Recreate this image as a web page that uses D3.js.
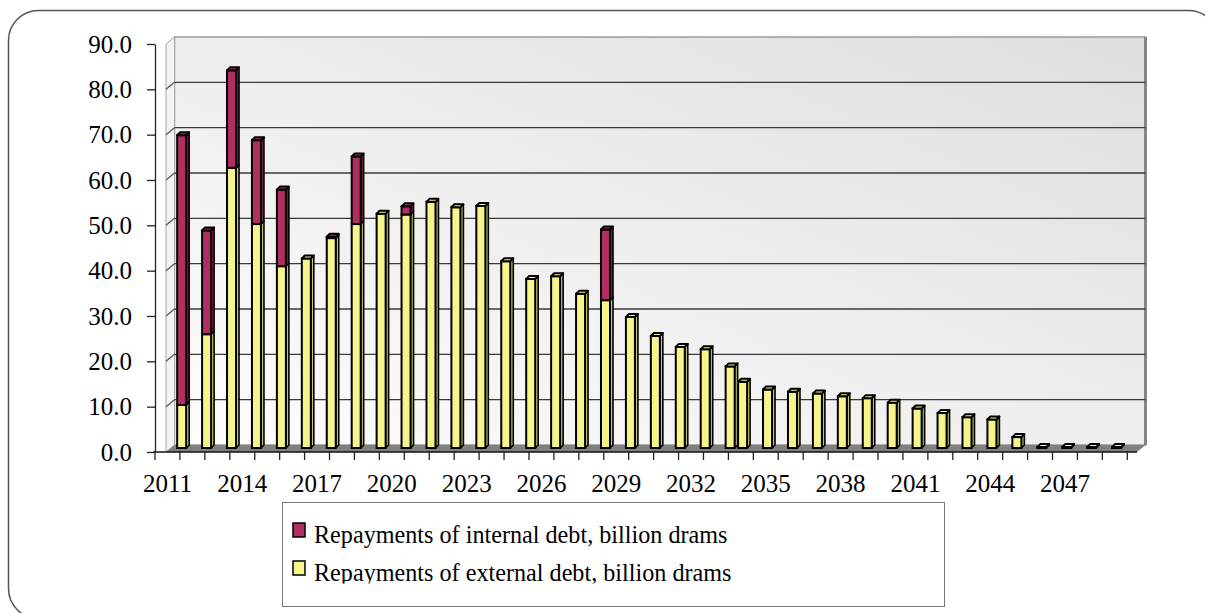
<!DOCTYPE html>
<html><head><meta charset="utf-8">
<script src="https://cdn.jsdelivr.net/npm/d3@7"></script>
<style>
body{margin:0;background:#fff}
svg{display:block}
text{font-family:"Liberation Serif","Times New Roman",serif;fill:#000}
</style>
</head><body>
<svg id="chart" width="1205" height="613"></svg>
<script>
// ---- data ----
const years = ["2011","2012","2013","2014","2015","2016","2017","2018","2019","2020",
  "2021","2022","2023","2024","2025","2026","2027","2028","2029","2030",
  "2031","2032","2033","2034","2035","2036","2037","2038","2039","2040",
  "2041","2042","2043","2044","2045","2046","2047","2048","2049"];
const externalDebt = [9.5,25.1,61.8,49.4,40.1,41.8,46.3,49.4,51.7,51.5,
  54.3,53.1,53.4,41.2,37.3,37.9,34.0,32.6,28.9,24.7,
  22.3,21.8,18.0,14.6,12.9,12.4,12.0,11.4,11.0,10.0,
  8.7,7.7,6.8,6.3,2.4,0.2,0.2,0.2,0.2];
const internalDebt = [59.5,22.9,21.5,18.5,16.9,0,0.3,14.9,0,1.8,
  0,0,0,0,0,0,0,15.6,0,0,
  0,0,0,0,0,0,0,0,0,0,
  0,0,0,0,0,0,0,0,0];
const yTickValues = [0,10,20,30,40,50,60,70,80,90];
const xTickLabels = ["2011","2014","2017","2020","2023","2026","2029","2032","2035","2038","2041","2044","2047"];
const seriesNames = ["Repayments of internal debt, billion drams","Repayments of external debt, billion drams"];
const seriesColors = {internal:"#B02E62", external:"#F5F58C"};
const sideColors = {internal:"#7A1C43", external:"#C4C46A"};

// ---- layout ----
const svg = d3.select("#chart");
const axisLeftX = 155, xEnd = 1127.3, yTop = 44, yBottom = 452;
const depthX = 8.5, depthY = -7;
const wallFrontX = 166, floorFrontRight = 1137;
const barDepth = -4;           // bars sit mid-depth on the floor
const barOffset = 9.7, barW = 9, barSide = 3;
const shiftedBars = 23;        // left part of the reference is offset half a slot

const x = d3.scaleBand().domain(years).range([axisLeftX, xEnd]).padding(0);
const y = d3.scaleLinear().domain([0, 90]).range([yBottom, yTop]);
const bw = x.bandwidth();

const defs = svg.append("defs");
const g1 = defs.append("linearGradient").attr("id","wallGrad")
  .attr("x1","0%").attr("y1","100%").attr("x2","100%").attr("y2","0%");
g1.append("stop").attr("offset","0%").attr("stop-color","#fdfdfd");
g1.append("stop").attr("offset","100%").attr("stop-color","#dedede");
defs.append("clipPath").attr("id","legClip").append("rect")
  .attr("x",280).attr("y",500).attr("width",670).attr("height",83.5);

// outer frame
svg.append("rect").attr("x",8.5).attr("y",10.5).attr("width",1210).attr("height",608)
  .attr("rx",30).attr("ry",30).attr("fill","#fff").attr("stroke","#555").attr("stroke-width",1.5);

// back wall
const wallL = wallFrontX + depthX, wallR = floorFrontRight + depthX;
const wallTop = y(90) + depthY, wallBottom = y(0) + depthY;
svg.append("rect").attr("x",wallL).attr("y",wallTop).attr("width",wallR-wallL).attr("height",wallBottom-wallTop)
  .attr("fill","url(#wallGrad)").attr("stroke","#9a9a9a").attr("stroke-width",1.5);
svg.append("line").attr("x1",wallR).attr("x2",wallR).attr("y1",wallTop).attr("y2",wallBottom)
  .attr("stroke","#858585").attr("stroke-width",3);

// left wall
svg.append("polygon")
  .attr("points",[[wallFrontX,y(90)],[wallL,wallTop],[wallL,wallBottom],[wallFrontX,y(0)]].join(" "))
  .attr("fill","#f3f3f3").attr("stroke","#a8a8a8").attr("stroke-width",1);

// gridlines
const grid = yTickValues.filter(v => v > 0 && v < 90);
svg.append("g").selectAll("line").data(grid).join("line")
  .attr("x1",wallL).attr("x2",wallR).attr("y1",d=>y(d)+depthY).attr("y2",d=>y(d)+depthY)
  .attr("stroke","#3a3a3a").attr("stroke-width",1.4);
svg.append("g").selectAll("line").data(grid).join("line")
  .attr("x1",wallFrontX).attr("x2",wallL).attr("y1",d=>y(d)).attr("y2",d=>y(d)+depthY)
  .attr("stroke","#555").attr("stroke-width",1.2);

// floor
svg.append("polygon")
  .attr("points",[[wallFrontX,y(0)],[floorFrontRight,y(0)],[wallR,wallBottom],[wallL,wallBottom]].join(" "))
  .attr("fill","#808080");

// y axis
const yAxis = svg.append("g").attr("transform",`translate(${axisLeftX},0)`)
  .call(d3.axisLeft(y).tickValues(yTickValues).tickFormat(d3.format(".1f")).tickSize(8).tickPadding(15).tickSizeOuter(0));
yAxis.select(".domain").attr("stroke","#222").attr("stroke-width",1.3);
yAxis.selectAll(".tick line").attr("stroke","#222").attr("stroke-width",1.3);
yAxis.selectAll("text").attr("font-size",25).attr("font-family","Liberation Serif, Times New Roman, serif").attr("fill","#000");

// x axis
svg.append("line").attr("x1",axisLeftX-2).attr("x2",floorFrontRight).attr("y1",yBottom).attr("y2",yBottom)
  .attr("stroke","#111").attr("stroke-width",1.5);
const tickPos = years.map(d => x(d)).concat([xEnd]);
svg.append("g").selectAll("line").data(tickPos).join("line")
  .attr("x1",d=>d).attr("x2",d=>d).attr("y1",yBottom).attr("y2",yBottom+8)
  .attr("stroke","#222").attr("stroke-width",1.3);
svg.append("g").selectAll("text").data(xTickLabels).join("text")
  .attr("x",d=>x(d)+bw/2).attr("y",492).attr("text-anchor","middle")
  .attr("font-size",25).text(d=>d);

// bars
const ybar = v => y(v) + barDepth;
const barsG = svg.append("g");
years.forEach((yr,i) => {
  const x0 = x(yr) + (i < shiftedBars ? bw/2 : 0) + barOffset;
  const segs = [{k:"external", a:0, b:externalDebt[i]}];
  if (internalDebt[i] > 0) segs.push({k:"internal", a:externalDebt[i], b:externalDebt[i]+internalDebt[i]});
  const g = barsG.append("g");
  segs.forEach(s => {
    const yt = ybar(s.b), yb = ybar(s.a);
    g.append("polygon")
      .attr("points",[[x0+barW,yt],[x0+barW+barSide,yt-barSide],[x0+barW+barSide,yb-barSide],[x0+barW,yb]].join(" "))
      .attr("fill",sideColors[s.k]).attr("stroke","#000").attr("stroke-width",1.6).attr("stroke-linejoin","round");
    g.append("rect").attr("x",x0).attr("y",yt).attr("width",barW).attr("height",Math.max(0,yb-yt))
      .attr("fill",seriesColors[s.k]).attr("stroke","#000").attr("stroke-width",2);
  });
  const last = segs[segs.length-1];
  const yt = ybar(last.b);
  g.append("polygon")
    .attr("points",[[x0,yt],[x0+barW,yt],[x0+barW+barSide,yt-barSide],[x0+barSide,yt-barSide]].join(" "))
    .attr("fill",seriesColors[last.k]).attr("stroke","#000").attr("stroke-width",2).attr("stroke-linejoin","round");
});

// legend
svg.append("rect").attr("x",282.5).attr("y",502.5).attr("width",662).attr("height",104)
  .attr("fill","#fff").attr("stroke","#777").attr("stroke-width",1);
const legItems = [{name:seriesNames[0], k:"internal"},{name:seriesNames[1], k:"external"}];
const leg = svg.append("g").attr("clip-path","url(#legClip)");
legItems.forEach((it,i) => {
  const ly = 523 + i*38;
  leg.append("rect").attr("x",293).attr("y",ly).attr("width",12).attr("height",14)
    .attr("fill",seriesColors[it.k]).attr("stroke","#000").attr("stroke-width",1.5);
  leg.append("text").attr("transform",`translate(314,${ly+19.5}) scale(0.93,1)`)
    .attr("font-size",26).text(it.name);
});
</script>
</body></html>
